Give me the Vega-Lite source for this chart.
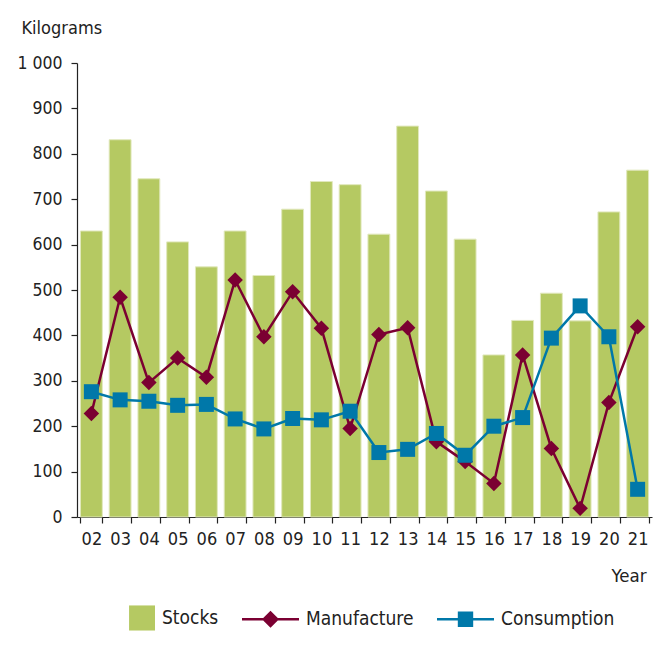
{
  "$schema": "https://vega.github.io/schema/vega-lite/v6.json",
  "autosize": "none",
  "width": 575,
  "height": 454,
  "padding": {"left": 77, "top": 63, "right": 6, "bottom": 155},
  "background": "white",
  "config": {
    "font": "DejaVu Sans Condensed, sans-serif",
    "view": {"stroke": null},
    "axis": {"labelFont": "DejaVu Sans Condensed, sans-serif", "titleFont": "DejaVu Sans Condensed, sans-serif", "labelColor": "#222222", "titleColor": "#222222", "domainColor": "#222222", "tickColor": "#222222", "grid": false},
    "legend": {
      "labelFont": "DejaVu Sans Condensed, sans-serif", "title": null,
      "orient": "none", "direction": "horizontal", "legendX": 21, "legendY": 526, "padding": 0,
      "symbolSize": 3249, "symbolStrokeWidth": 0, "symbolOpacity": 1, "labelOffset": 7,
      "columnPadding": 23, "labelFontSize": 19, "labelColor": "#222222"
    }
  },
  "data": {"values": [
    {"year": "02", "series": "Stocks", "value": 630},
    {"year": "03", "series": "Stocks", "value": 831},
    {"year": "04", "series": "Stocks", "value": 745},
    {"year": "05", "series": "Stocks", "value": 606},
    {"year": "06", "series": "Stocks", "value": 551},
    {"year": "07", "series": "Stocks", "value": 630},
    {"year": "08", "series": "Stocks", "value": 532},
    {"year": "09", "series": "Stocks", "value": 678},
    {"year": "10", "series": "Stocks", "value": 739},
    {"year": "11", "series": "Stocks", "value": 732},
    {"year": "12", "series": "Stocks", "value": 623},
    {"year": "13", "series": "Stocks", "value": 861},
    {"year": "14", "series": "Stocks", "value": 718},
    {"year": "15", "series": "Stocks", "value": 612},
    {"year": "16", "series": "Stocks", "value": 357},
    {"year": "17", "series": "Stocks", "value": 433},
    {"year": "18", "series": "Stocks", "value": 493},
    {"year": "19", "series": "Stocks", "value": 432},
    {"year": "20", "series": "Stocks", "value": 672},
    {"year": "21", "series": "Stocks", "value": 764},
    {"year": "02", "series": "Manufacture", "value": 228},
    {"year": "03", "series": "Manufacture", "value": 484},
    {"year": "04", "series": "Manufacture", "value": 296},
    {"year": "05", "series": "Manufacture", "value": 350},
    {"year": "06", "series": "Manufacture", "value": 308},
    {"year": "07", "series": "Manufacture", "value": 522},
    {"year": "08", "series": "Manufacture", "value": 397},
    {"year": "09", "series": "Manufacture", "value": 496},
    {"year": "10", "series": "Manufacture", "value": 416},
    {"year": "11", "series": "Manufacture", "value": 195},
    {"year": "12", "series": "Manufacture", "value": 402},
    {"year": "13", "series": "Manufacture", "value": 417},
    {"year": "14", "series": "Manufacture", "value": 166},
    {"year": "15", "series": "Manufacture", "value": 122},
    {"year": "16", "series": "Manufacture", "value": 74},
    {"year": "17", "series": "Manufacture", "value": 357},
    {"year": "18", "series": "Manufacture", "value": 151},
    {"year": "19", "series": "Manufacture", "value": 19},
    {"year": "20", "series": "Manufacture", "value": 252},
    {"year": "21", "series": "Manufacture", "value": 419},
    {"year": "02", "series": "Consumption", "value": 276},
    {"year": "03", "series": "Consumption", "value": 258},
    {"year": "04", "series": "Consumption", "value": 255},
    {"year": "05", "series": "Consumption", "value": 246},
    {"year": "06", "series": "Consumption", "value": 248},
    {"year": "07", "series": "Consumption", "value": 216},
    {"year": "08", "series": "Consumption", "value": 194},
    {"year": "09", "series": "Consumption", "value": 217},
    {"year": "10", "series": "Consumption", "value": 214},
    {"year": "11", "series": "Consumption", "value": 233},
    {"year": "12", "series": "Consumption", "value": 142},
    {"year": "13", "series": "Consumption", "value": 149},
    {"year": "14", "series": "Consumption", "value": 184},
    {"year": "15", "series": "Consumption", "value": 136},
    {"year": "16", "series": "Consumption", "value": 200},
    {"year": "17", "series": "Consumption", "value": 219},
    {"year": "18", "series": "Consumption", "value": 394},
    {"year": "19", "series": "Consumption", "value": 465},
    {"year": "20", "series": "Consumption", "value": 397},
    {"year": "21", "series": "Consumption", "value": 61}
  ]},
  "encoding": {
    "x": {
      "field": "year", "type": "ordinal",
      "scale": {"paddingInner": 0.24, "paddingOuter": 0.12},
      "axis": {
        "title": "Year", "titleFontSize": 18.5, "titleFontWeight": "normal",
        "titleAnchor": null, "titleAlign": "right", "titleBaseline": "alphabetic",
        "titleX": 569, "titleY": 64,
        "labelAngle": 0, "labelFontSize": 18, "labelPadding": 7,
        "tickSize": 6, "tickBand": "extent", "domainWidth": 1.2, "tickWidth": 1.2
      }
    },
    "y": {
      "field": "value", "type": "quantitative",
      "scale": {"domain": [0, 1000], "nice": false},
      "axis": {
        "title": "Kilograms", "titleFontSize": 18, "titleFontWeight": "normal",
        "titleAngle": 0, "titleAnchor": null, "titleAlign": "left", "titleBaseline": "alphabetic",
        "titleX": -56, "titleY": -30,
        "values": [0, 100, 200, 300, 400, 500, 600, 700, 800, 900, 1000],
        "labelExpr": "replace(format(datum.value, ','), ',', ' ')",
        "labelFontSize": 17.5, "labelPadding": 9, "tickSize": 6,
        "domainWidth": 1.2, "tickWidth": 1.2
      }
    }
  },
  "layer": [
    {
      "transform": [{"filter": "datum.series === 'Stocks'"}],
      "mark": {"type": "bar", "stroke": "#e1e8bd", "strokeWidth": 1},
      "encoding": {
        "color": {
          "field": "series", "type": "nominal",
          "scale": {"domain": ["Stocks", "Manufacture", "Consumption"], "range": ["#b5c962", "#7b0032", "#0078a9"]}
        }
      }
    },
    {
      "transform": [{"filter": "datum.series !== 'Stocks'"}],
      "mark": {"type": "line", "strokeWidth": 2.5},
      "encoding": {
        "color": {"field": "series", "type": "nominal"}
      }
    },
    {
      "transform": [{"filter": "datum.series === 'Manufacture'"}],
      "mark": {"type": "point", "shape": "diamond", "size": 240, "filled": true, "opacity": 1},
      "encoding": {
        "color": {"field": "series", "type": "nominal"}
      }
    },
    {
      "transform": [{"filter": "datum.series === 'Consumption'"}],
      "mark": {"type": "point", "shape": "square", "size": 225, "filled": true, "opacity": 1},
      "encoding": {
        "color": {"field": "series", "type": "nominal"}
      }
    },
    {
      "transform": [{"filter": "false"}],
      "mark": {"type": "point", "filled": true, "opacity": 1},
      "encoding": {
        "color": {"field": "series", "type": "nominal"},
        "shape": {
          "field": "series", "type": "nominal",
          "scale": {
            "domain": ["Stocks", "Manufacture", "Consumption"],
            "range": [
              "M0.09,-0.44L1,-0.44L1,0.44L0.09,0.44Z",
              "M-1,-0.04L1,-0.04L1,0.04L-1,0.04Z M0,-0.3L0.3,0L0,0.3L-0.3,0Z",
              "M-1,-0.04L1,-0.04L1,0.04L-1,0.04Z M-0.27,-0.27L0.27,-0.27L0.27,0.27L-0.27,0.27Z"
            ]
          }
        }
      }
    }
  ]
}
